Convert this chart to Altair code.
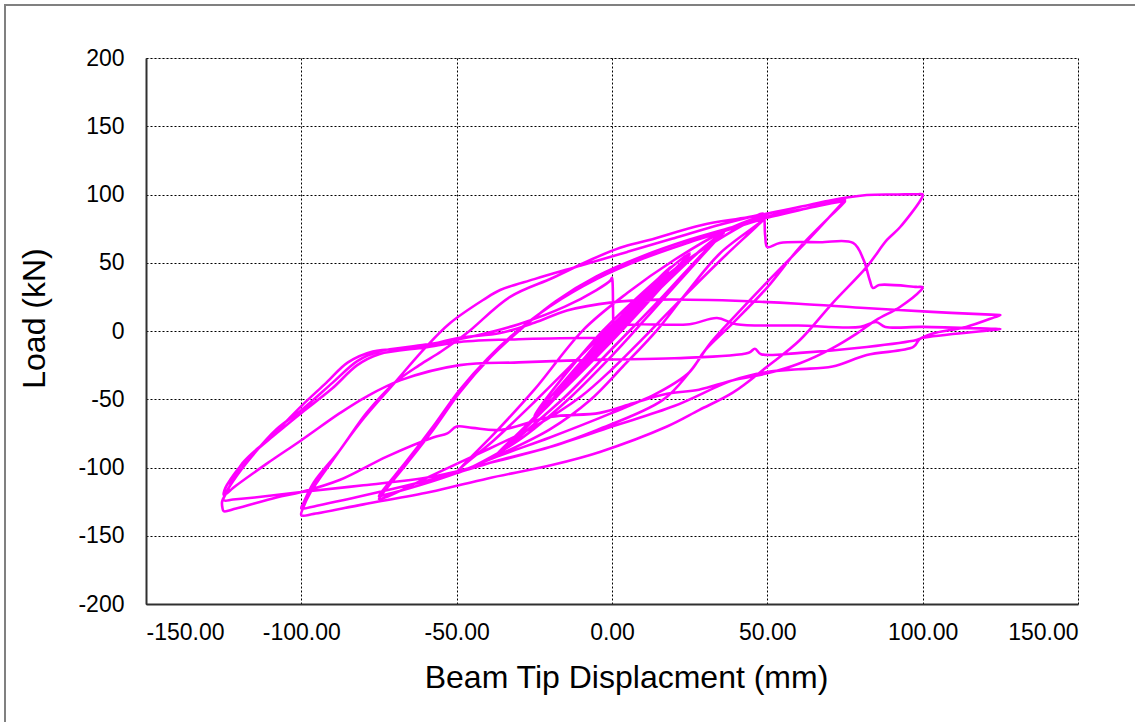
import altair as alt
import pandas as pd

# ---- data: hysteresis path, branch by branch (displacement mm, load kN) ----
elastic = [(0, 0), (-9.4, -24), (0.5, 0), (9.4, 24), (-0.5, 0), (-9.4, -24), (0.3, 0), (9.4, 24),
           (0, 0), (-12.5, -33), (0.8, 0), (12.5, 32), (-0.8, 0), (-12.5, -33), (0.5, 0), (12.5, 31),
           (-0.5, 0), (-18.75, -48), (1.5, 0), (18.75, 46), (-1.5, 0), (-18.75, -49), (1.0, 0), (18.75, 47),
           (-1.0, 0), (-25, -63), (3, 0), (25, 57), (-3, 0), (-25, -62), (2, 0), (25, 56)]
c375 = [(18, 40), (5, 8), (-8, -24), (-22, -58), (-32, -80), (-36.5, -90), (-37.6, -92),
        (-36.5, -89), (-30, -76), (-18, -48), (-5, -16), (8, 16), (20, 42), (30, 62), (35, 71), (36, 73),
        (35, 70.5), (28, 54), (15, 22), (0, -13), (-15, -48), (-28, -74), (-36.5, -90), (-37.6, -92),
        (-36.5, -89), (-28, -70), (-15, -40), (0, -3), (15, 30), (28, 58), (35, 70.5), (36, 72)]
c50 = [(35, 70), (25, 45), (12, 12), (0, -18), (-15, -52), (-30, -80), (-42, -96), (-48, -102.5), (-50, -104),
       (-49, -101), (-37, -73), (-25, -43), (-9.3, 0.7), (5, 28), (20, 52), (35, 72), (48, 84), (50, 85),
       (48.7, 81.5), (34.8, 57), (24, 28), (14.5, 0.7), (3.5, -26), (-7, -50.5), (-20, -72), (-37.6, -92),
       (-48, -102.5), (-50, -104),
       (-49, -101), (-38, -80), (-25, -52), (-10, -18), (5, 15), (20, 45), (35, 68), (48, 84), (50, 85)]
c75 = [(48.7, 81.5), (35, 52), (20, 18), (8, -10), (0, -28), (-10, -48), (-25, -70), (-45, -92), (-60, -108),
       (-72, -121), (-75, -123),
       (-74, -119.5), (-66, -97), (-57.6, -72.5), (-49, -45), (-39, -19), (-30, 0), (-18, 22), (-5, 40),
       (10, 55), (25, 67), (40, 77), (50, 84), (63, 90), (73, 94.5), (75, 95),
       (74, 92.5), (60.5, 61.5), (50, 32), (39, 6), (30, -14), (25, -30), (15, -45), (0, -60), (-20, -78),
       (-37, -92), (-50, -104), (-62, -113), (-73, -120), (-75, -121),
       (-74, -117.5), (-66, -95), (-57.6, -70), (-49, -43), (-40, -20), (-32, -3), (-20, 18), (-5, 38),
       (10, 53), (25, 65), (40, 76), (50, 83), (63, 90), (73, 95.5), (75, 96)]
c100a = [(74, 93.5), (62, 64), (50, 36), (40, 12), (32, -8), (25, -30), (16.4, -50.5), (-4.8, -72.5),
         (-20, -85), (-37, -95), (-50, -104), (-75, -118), (-95, -128), (-100, -130),
         (-99.3, -126), (-96, -111), (-87.5, -87), (-79, -60), (-70, -38), (-62, -25), (-55, -15),
         (-46.7, -1.5), (-32.8, 25), (-19, 39), (-7, 52), (2.6, 61), (12, 66.7), (29, 77.7), (44, 83.5),
         (60.5, 91), (71, 96), (82, 99.6), (92, 100), (98.5, 100.2), (100, 100)]
c100b = [(99.6, 97), (92.7, 76), (88.5, 66.7), (82, 47), (71, 20.5), (60.5, -6.6), (50, -26), (39, -45),
         (28, -58), (17.7, -70), (-3.9, -88.6), (-19, -98), (-40, -108), (-58.6, -118), (-80, -127),
         (-96, -134), (-100, -135),
         (-99.5, -130), (-97, -118), (-90, -95), (-81, -67), (-70, -38), (-60, -12), (-52, 6),
         (-41.5, 22.7), (-36, 30), (-25, 38), (-10, 48), (5, 58), (20, 68), (35, 78), (47, 85),
         (48.6, 86), (49.3, 70), (50, 61.5), (54, 64.5), (67, 65), (77.6, 64.5), (81, 52), (83, 37),
         (84, 31.5), (86, 33.7), (98, 32.3), (100, 32)]
c125a = [(99.3, 29.5), (92.7, 17.6), (85, 8), (79, -1.5), (71, -12.5), (60.5, -23.6), (50, -31), (39, -36),
         (28, -43), (17.7, -46), (6.8, -53), (-3.9, -60), (-20, -63), (-36, -72.5), (-45, -71), (-50, -70),
         (-53, -75), (-57.6, -78), (-72.5, -92), (-87.5, -109), (-100, -118), (-108, -122), (-121, -130),
         (-125, -132),
         (-125.4, -129.5), (-125.5, -125), (-124, -118), (-119, -97), (-110, -78), (-100, -55), (-92, -38),
         (-85, -23), (-77, -15), (-63, -12), (-49, -5), (-36, -1.5), (-25, 6), (-14.5, 15), (0, 21),
         (15, 23), (31.5, 22.7), (60, 20), (80, 17), (103, 14), (122, 12), (125, 11.7)]
c125b = [(123, 10), (114, 3), (103, -2), (99, -6), (97, -11.7), (82, -17.6), (71, -26), (60, -28),
         (50, -30), (39, -36), (20, -55), (0, -70), (-20, -85), (-40, -97), (-58.6, -107), (-80, -113),
         (-100, -118), (-115, -122), (-122, -123.5), (-125, -124),
         (-124.6, -120), (-122, -110), (-116, -92), (-108, -72), (-100, -58), (-90, -38), (-82, -22),
         (-75, -15), (-60, -10), (-45, -4), (-30, 5), (-15, 18), (-5, 30), (-0.5, 37), (0, 39), (0.2, 35),
         (0.4, 8), (0.5, 5), (10, 5), (25, 5), (33.8, 9.5), (40, 5), (60, 4), (80, 3), (85, 6.6), (88, 3),
         (100, 3), (122, 1.7), (125, 1.5)]
c125c = [(122, 0.6), (100, -5), (98, -6.6), (82, -11.7), (60.5, -16), (48, -17), (46, -13), (44, -16),
         (20, -20), (-3.9, -21), (-30, -23), (-49, -25), (-68, -36), (-79, -48), (-87.5, -60), (-100, -80),
         (-111, -97), (-122, -115), (-124, -119), (-125, -120),
         (-124.8, -117), (-124, -113), (-118, -95), (-108, -75), (-100, -60), (-90, -42), (-82, -25),
         (-75, -17), (-60, -12), (-49, -8), (-30, -6), (-5, -5)]

branches = [elastic, c375, c50, c75, c100a, c100b, c125a, c125b, c125c]

x_ticks = [-150, -100, -50, 0, 50, 100, 150]
y_ticks = [-200, -150, -100, -50, 0, 50, 100, 150, 200]

rows = []
for br in branches:
    for (dx, ld) in br:
        rows.append({"disp": dx, "load": ld, "i": len(rows)})
df = pd.DataFrame(rows)

FONT = "Liberation Sans"
x_label = "datum.value < 0 ? '-' + format(-datum.value, '.2f') : format(datum.value, '.2f')"
y_label = "datum.value < 0 ? '-' + format(-datum.value, 'd') : format(datum.value, 'd')"

line = alt.Chart(df).mark_line(color="#FF00FF", strokeWidth=2.6, clip=True, interpolate="catmull-rom",
                               strokeJoin="round", strokeCap="round").encode(
    x=alt.X("disp:Q", scale=alt.Scale(domain=[-150, 150], nice=False, zero=False),
            axis=alt.Axis(values=x_ticks, labelExpr=x_label, title="Beam Tip Displacment (mm)",
                          grid=True, gridColor="#000000", gridDash=[2, 2], gridWidth=1,
                          ticks=False, labelFontSize=23, labelFont=FONT, labelColor="#000000",
                          labelPadding=17, domainColor="#303030", domainWidth=2,
                          titleFontSize=32, titleFont=FONT, titleFontWeight="normal",
                          titleColor="#000000", titlePadding=18, titleX=480)),
    y=alt.Y("load:Q", scale=alt.Scale(domain=[-200, 200], nice=False, zero=False),
            axis=alt.Axis(values=y_ticks, labelExpr=y_label, title="Load (kN)",
                          grid=True, gridColor="#000000", gridDash=[2, 2], gridWidth=1,
                          ticks=False, labelFontSize=23, labelFont=FONT, labelColor="#000000",
                          labelPadding=22, domainColor="#303030", domainWidth=2,
                          titleFontSize=32, titleFont=FONT, titleFontWeight="normal",
                          titleColor="#000000", titlePadding=26, titleY=260)),
    order=alt.Order("i:Q"),
)

frame = alt.Chart(pd.DataFrame({"a": [0]})).mark_rect(
    filled=False, stroke="#808080", strokeWidth=2, fill=None).encode(
    x=alt.value(-141), x2=alt.value(1100), y=alt.value(-53), y2=alt.value(700))

chart = alt.layer(frame, line).properties(
    width=932, height=546,
    autosize=alt.AutoSizeParams(type="none"),
    padding={"left": 146, "top": 58, "right": 57, "bottom": 118},
).configure_view(stroke="#808080", strokeWidth=2).configure(background="white")

chart.save("out.html", embed_options={"renderer": "svg", "actions": False})
